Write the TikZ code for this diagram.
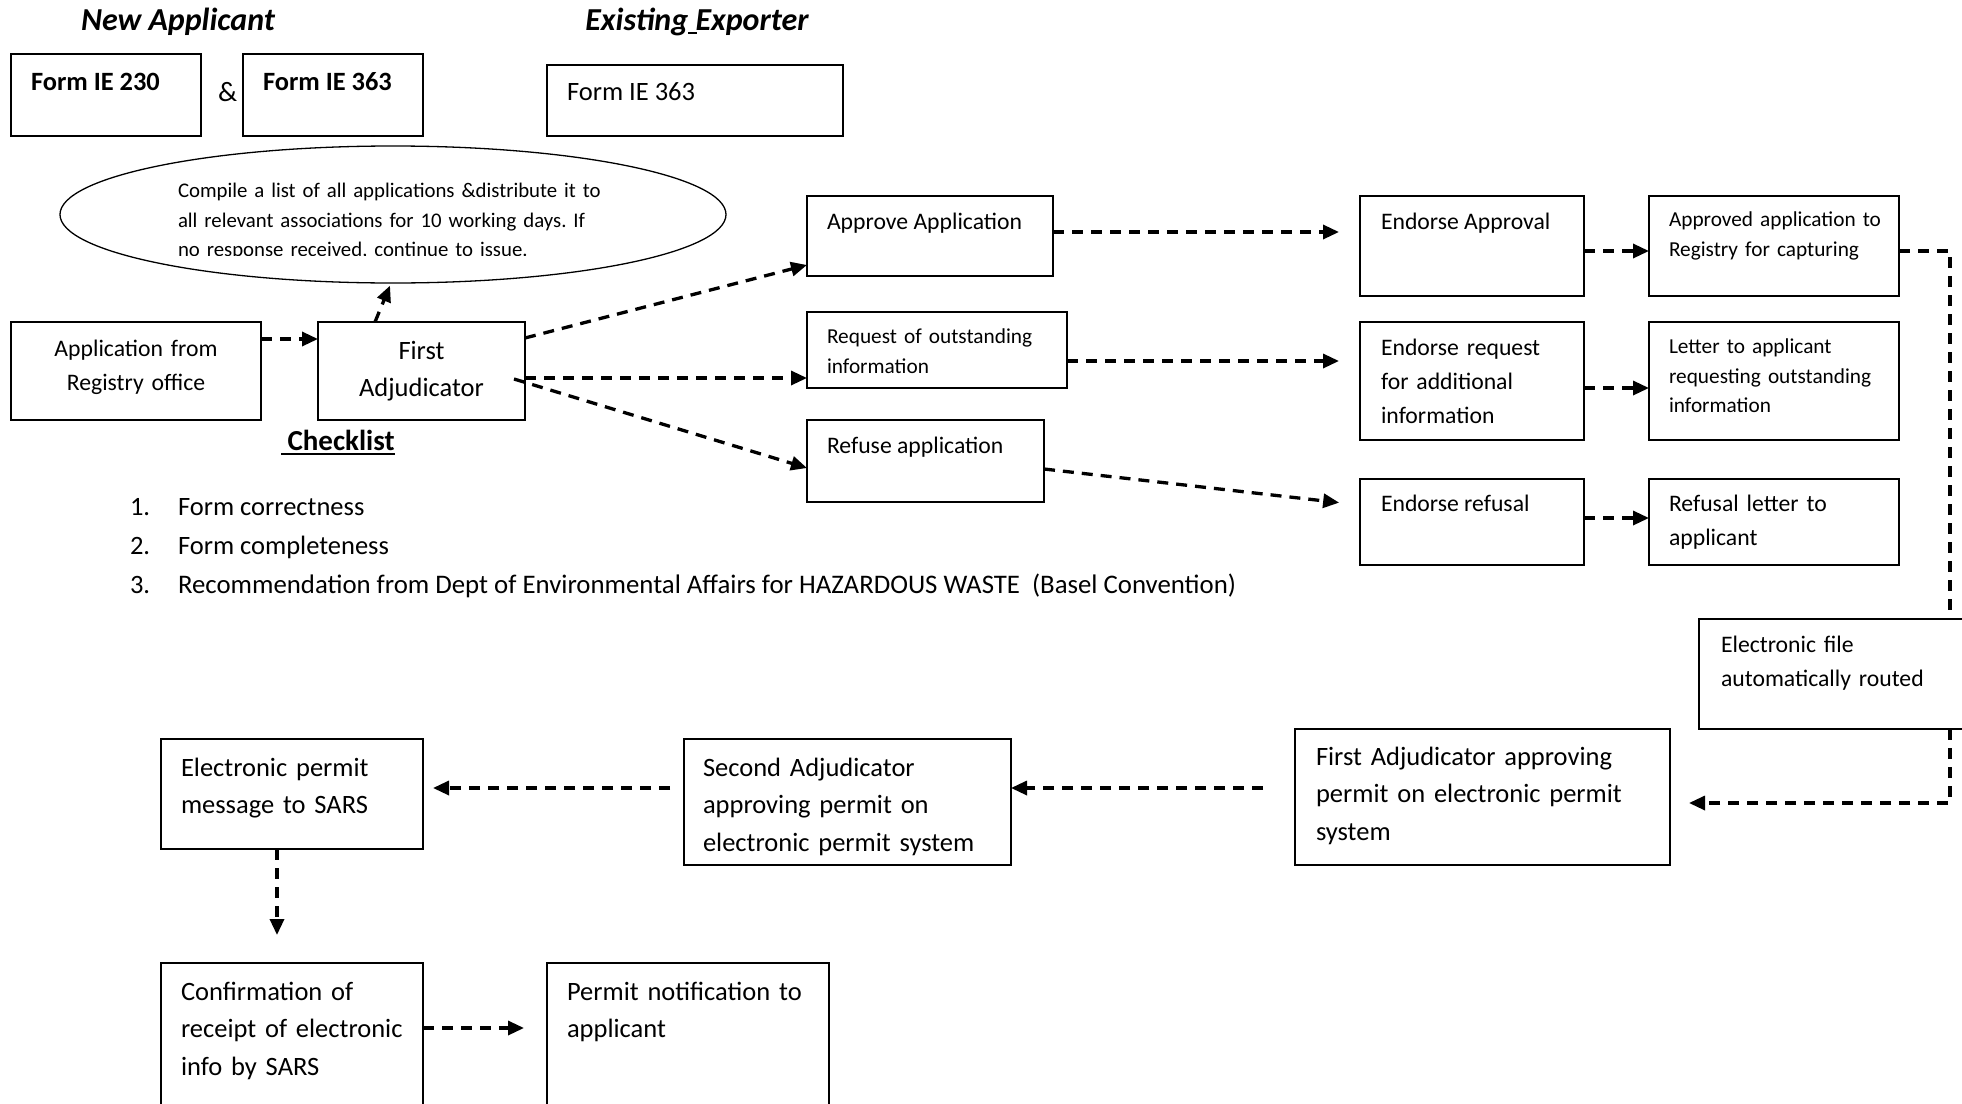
\documentclass[tikz,border=0pt]{standalone}
\usepackage{fontspec}
\setmainfont{Carlito}
\frenchspacing
\usetikzlibrary{arrows.meta,shapes.geometric,calc}
\begin{document}
\begin{tikzpicture}[x=1pt,y=-1pt,
  box/.style={draw=black,line width=1.3pt,inner sep=0pt,outer sep=0pt,fill=white},
  fA/.style={font=\fontsize{26.5}{37.5}\selectfont},
  fB/.style={font=\fontsize{23.7}{34}\selectfont},
  fC/.style={font=\fontsize{21.3}{29.5}\selectfont},
  txt/.style={inner sep=0pt,outer sep=0pt,anchor=base west},
  mtxt/.style={inner sep=0pt,outer sep=0pt,anchor=base west,align=left,text width=#1},
  conn/.style={line width=3.3pt,dash pattern=on 11pt off 8pt,-{Triangle[length=16pt,width=14pt]}},
  dline/.style={line width=3.3pt,dash pattern=on 11pt off 8pt},
]
\useasboundingbox (0,0) rectangle (1962,1103);
\clip (0,0) rectangle (1962,1103);

% titles
\node[txt,anchor=base,font=\fontsize{32}{38}\selectfont\bfseries\itshape] (tNew) at (178,30) {New Applicant};
\node[txt,anchor=base,font=\fontsize{32}{38}\selectfont\bfseries\itshape] (tExist) at (697,30) {Existing\rlap{\rule[-3.5pt]{9pt}{2pt}}\ Exporter};

% forms
\node[box,minimum width=190pt,minimum height=82pt] (F1) at (106,95) {};
\node[txt,font=\fontsize{26.4}{32}\selectfont\bfseries] (tF1) at (31,90) {Form IE 230};
\node[txt,font=\fontsize{28}{32}\selectfont] (amp) at (218,101) {\&};
\node[box,minimum width=180pt,minimum height=82pt] (F2) at (333,95) {};
\node[txt,font=\fontsize{26.4}{32}\selectfont\bfseries] (tF2) at (263,90) {Form IE 363};
\node[box,minimum width=296pt,minimum height=71pt] (F3) at (695,100.5) {};
\node[txt,fA] (tF3) at (567,100) {Form IE 363};

% ellipse
\node[draw,ellipse,line width=1.3pt,minimum width=666pt,minimum height=137pt,inner sep=0pt] (ell) at (393,214.5) {};
\begin{scope}
\clip (0,0) rectangle (1962,255.5);
\node[mtxt=500pt,font=\fontsize{20.8}{29.5}\selectfont] (tEll) at (178,197.5) {Compile a list of all applications \&distribute it to\\all relevant associations for 10 working days. If\\no response received, continue to issue.};
\end{scope}

% first row
\node[box,minimum width=250pt,minimum height=98pt] (App) at (136,371) {};
\node[inner sep=0pt,anchor=base,align=center,text width=250pt,fB] (tApp) at (136,356) {Application from\\Registry office};
\node[box,minimum width=207pt,minimum height=98pt] (FA) at (421.5,371) {};
\node[inner sep=0pt,anchor=base,align=center,text width=207pt,fA] (tFA) at (421.5,359) {First\\Adjudicator};

% checklist
\node[txt,font=\fontsize{29}{34}\selectfont\bfseries] (chk) at (281,450) {\ Checklist};
\draw[line width=1.8pt] ([yshift=-4pt]chk.base west) -- ([yshift=-4pt]chk.base east);
\node[txt,fA] (n1) at (130,515) {1.};
\node[txt,fA] (l1) at (178,515) {Form correctness};
\node[txt,fA] (n2) at (130,554) {2.};
\node[txt,fA] (l2) at (178,554) {Form completeness};
\node[txt,fA] (n3) at (130,593) {3.};
\node[txt,font=\fontsize{26.8}{37.5}\selectfont] (l3) at (178,593) {Recommendation from Dept of Environmental Affairs for HAZARDOUS WASTE\ \ (Basel Convention)};

% middle column
\node[box,minimum width=246pt,minimum height=80pt] (Approve) at (930,236) {};
\node[txt,fB] (tApprove) at (827,229) {Approve Application};
\node[box,minimum width=260pt,minimum height=76pt] (Request) at (937,350) {};
\node[mtxt=250pt,fC] (tRequest) at (827,343.5) {Request of outstanding\\information};
\node[box,minimum width=237pt,minimum height=82pt] (Refuse) at (925.5,461) {};
\node[txt,fB] (tRefuse) at (827,453) {Refuse application};

% endorse column
\node[box,minimum width=224pt,minimum height=100pt] (EndA) at (1472,246) {};
\node[txt,fB] (tEndA) at (1381,229) {Endorse Approval};
\node[box,minimum width=224pt,minimum height=118pt] (EndR) at (1472,381) {};
\node[mtxt=210pt,fB] (tEndR) at (1381,355) {Endorse request\\for additional\\information};
\node[box,minimum width=224pt,minimum height=86pt] (EndF) at (1472,522) {};
\node[txt,fB] (tEndF) at (1381,511) {Endorse refusal};

% letters column
\node[box,minimum width=250pt,minimum height=100pt] (AppReg) at (1774,246) {};
\node[mtxt=240pt,fC] (tAppReg) at (1669,226.5) {Approved application to\\Registry for capturing};
\node[box,minimum width=250pt,minimum height=118pt] (Letter) at (1774,381) {};
\node[mtxt=240pt,fC] (tLetter) at (1669,353.5) {Letter to applicant\\requesting outstanding\\information};
\node[box,minimum width=250pt,minimum height=86pt] (RefL) at (1774,522) {};
\node[mtxt=240pt,fB] (tRefL) at (1669,511) {Refusal letter to\\applicant};

% electronic part
\node[box,line width=2pt,minimum width=276pt,minimum height=110pt] (EFile) at (1837,674) {};
\node[mtxt=250pt,fB] (tEFile) at (1721,652) {Electronic file\\automatically routed};
\node[box,minimum width=375pt,minimum height=136pt] (FAapp) at (1482.5,797) {};
\node[mtxt=360pt,fA] (tFAapp) at (1316,765) {First Adjudicator approving\\permit on electronic permit\\system};
\node[box,minimum width=327pt,minimum height=126pt] (Second) at (847.5,802) {};
\node[mtxt=320pt,fA] (tSecond) at (703,776) {Second Adjudicator\\approving permit on\\electronic permit system};
\node[box,minimum width=262pt,minimum height=110pt] (EPermit) at (292,794) {};
\node[mtxt=250pt,fA] (tEPermit) at (181,776) {Electronic permit\\message to SARS};
\node[box,minimum width=262pt,minimum height=157pt] (Confirm) at (292,1041.5) {};
\node[mtxt=250pt,fA] (tConfirm) at (181,1000) {Confirmation of\\receipt of electronic\\info by SARS};
\node[box,minimum width=282pt,minimum height=157pt] (Permit) at (688,1041.5) {};
\node[mtxt=270pt,fA] (tPermit) at (567,1000) {Permit notification to\\applicant};

% connectors
\draw[conn] ([shift={(0,-32)}]App.east) -- ([shift={(0,-32)}]FA.west);
\draw[conn] ([shift={(-46.5,0)}]FA.north) -- ([shift={(-3,2)}]ell.south);
\draw[conn] ([shift={(0,-33)}]FA.east) -- ([shift={(0,29)}]Approve.west);
\draw[conn] ([shift={(0,7)}]FA.east) -- ([shift={(0,28)}]Request.west);
\draw[conn] ([shift={(-11,8)}]FA.east) -- ([shift={(0,7)}]Refuse.west);

\coordinate (a1) at ([shift={(0,-4)}]Approve.east);
\draw[conn,shorten >=21pt] (a1) -- (a1 -| EndA.west);
\coordinate (r1) at ([shift={(0,11)}]Request.east);
\draw[conn,shorten >=21pt] (r1) -- (r1 -| EndR.west);
\coordinate (f1) at ([shift={(0,8)}]Refuse.east);
\draw[conn,shorten >=21pt] (f1) -- ([shift={(0,-17)}]EndF.west);

\coordinate (e1) at ([shift={(0,5)}]EndA.east);
\draw[conn] (e1) -- (e1 -| AppReg.west);
\coordinate (e2) at ([shift={(0,7)}]EndR.east);
\draw[conn] (e2) -- (e2 -| Letter.west);
\coordinate (e3) at ([shift={(0,-4)}]EndF.east);
\draw[conn] (e3) -- (e3 -| RefL.west);

\coordinate (rx) at (1950,0);
\coordinate (g1) at ([shift={(0,5)}]AppReg.east);
\draw[dline] (g1) -| (rx |- EFile.north);
\coordinate (g2) at ([shift={(0,6)}]FAapp.east);
\draw[conn,shorten >=19pt] (rx |- EFile.south) |- (g2);

\coordinate (s2) at ([shift={(0,-14)}]Second.east);
\draw[conn,shorten <=32pt] (FAapp.west |- s2) -- (s2);
\coordinate (ep) at ([shift={(0,-6)}]EPermit.east);
\draw[conn,shorten <=14pt,shorten >=10pt] (Second.west |- ep) -- (ep);
\coordinate (dn) at ([shift={(-15,0)}]EPermit.south);
\draw[conn,shorten >=28pt] (dn) -- (dn |- Confirm.north);
\coordinate (cf) at ([shift={(0,65)}]Confirm.north east);
\draw[conn,shorten >=23pt] (cf) -- (cf -| Permit.west);
\end{tikzpicture}
\end{document}
